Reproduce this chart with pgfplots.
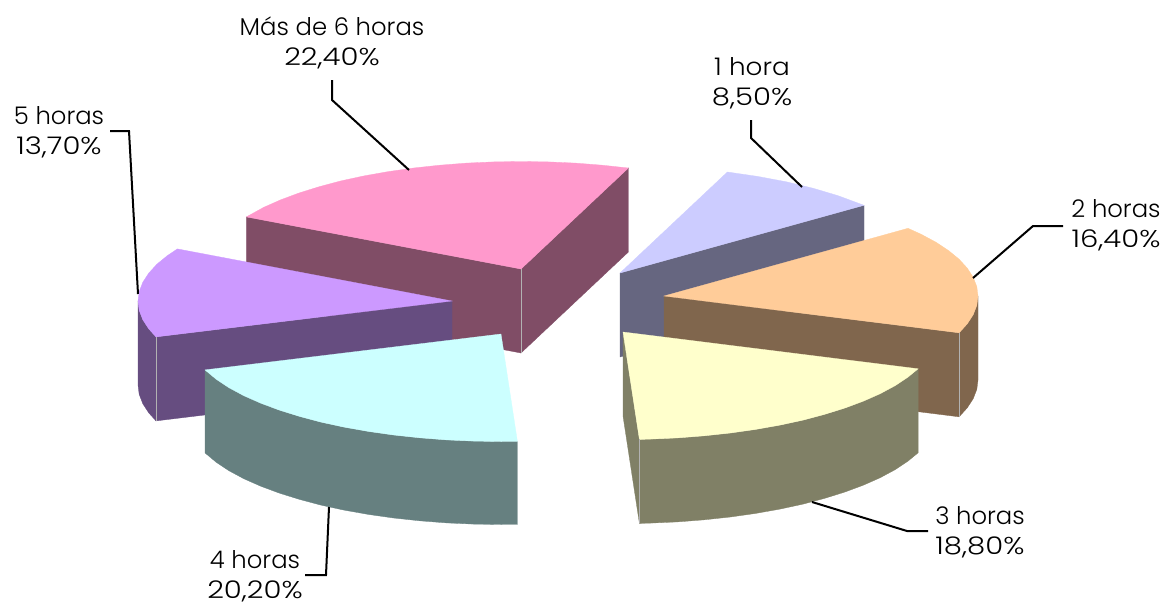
\documentclass[border=0pt]{standalone}
\usepackage{pgfplots}
\pgfplotsset{compat=1.18}
\usepackage{fontspec}
\setmainfont{Poppins Light}
\definecolor{aT}{HTML}{CCCCFF}\definecolor{aS}{HTML}{666680}
\definecolor{bT}{HTML}{FFCC99}\definecolor{bS}{HTML}{80664D}
\definecolor{cT}{HTML}{FFFFCC}\definecolor{cS}{HTML}{808066}
\definecolor{dT}{HTML}{CCFFFF}\definecolor{dS}{HTML}{668080}
\definecolor{eT}{HTML}{CC99FF}\definecolor{eS}{HTML}{664D80}
\definecolor{fT}{HTML}{FF99CC}\definecolor{fS}{HTML}{804D66}
\newcommand{\lab}[4]{\node[anchor=base,font=\fontsize{24.3}{24.3}\selectfont] at (axis cs:#1,#2) {#3};\node[anchor=base,font=\fontsize{24.3}{24.3}\selectfont] at (axis cs:#1,#2+30.5) {\scalebox{1.2}[1]{#4}};}
\begin{document}
\begin{tikzpicture}
\begin{axis}[scale only axis,width=1168pt,height=603pt,xmin=0,xmax=1168,ymin=0,ymax=603,y dir=reverse,hide axis,clip=false,
  every axis plot/.append style={line width=0.3pt,mark=none}]
% Mas de 6 horas
\addplot[fill=fS,draw=fS] coordinates {(246.4,216.9)(521,269)(521,353)(246.4,301)} --cycle;
\addplot[fill=fS,draw=fS] coordinates {(521,269)(628.4,168)(628.4,252)(521,353)} --cycle;
\addplot[fill=fT,draw=fT] coordinates {(521,269)(246.4,216.9)(263.8,207.3)(280.5,199.9)(299,193)(319.2,186.7)(340.9,180.9)(364,175.9)(388.3,171.6)(413.6,168)(439.7,165.2)(466.5,163.1)(493.6,161.9)(521,161.5)(548.4,161.9)(575.5,163.1)(602.3,165.2)(628.4,168)} --cycle;
\addplot[color=gray!60!white,line width=0.4pt] coordinates {(521,269)(521,353)};
% 1 hora
\addplot[fill=aS,draw=aS] coordinates {(620,273)(864,205.3)(864,289.3)(620,357)} --cycle;
\addplot[fill=aT,draw=aT] coordinates {(620,273)(727.4,172)(757.6,176.4)(786.4,181.8)(813.3,188.3)(838.1,195.7)(864,205.3)} --cycle;
% 5 horas
\addplot[fill=eS,draw=eS] coordinates {(452,301)(156,336.9)(156,420.9)(452,385)} --cycle;
\addplot[fill=eS,draw=eS] coordinates {(138,301)(139.2,310.4)(142.8,319.7)(148.7,328.8)(156,336.9)(156,420.9)(148.7,412.8)(142.8,403.7)(139.2,394.4)(138,385)} --cycle;
\addplot[fill=eT,draw=eT] coordinates {(452,301)(156,336.9)(148.7,328.8)(142.8,319.7)(139.2,310.4)(138,301)(139.2,291.6)(142.8,282.3)(148.7,273.2)(156.9,264.2)(167.4,255.6)(177.4,248.9)} --cycle;
\addplot[color=gray!60!white,line width=0.4pt] coordinates {(156,336.9)(156,420.9)};
% 2 horas
\addplot[fill=bS,draw=bS] coordinates {(664,296)(959.1,332.8)(959.1,416.8)(664,380)} --cycle;
\addplot[fill=bS,draw=bS] coordinates {(978,296)(976.8,305.4)(973.2,314.7)(967.3,323.8)(959.1,332.8)(959.1,416.8)(967.3,407.8)(973.2,398.7)(976.8,389.4)(978,380)} --cycle;
\addplot[fill=bT,draw=bT] coordinates {(664,296)(908,228.3)(921.2,234.3)(935.9,242.2)(948.6,250.6)(959.1,259.2)(967.3,268.2)(973.2,277.3)(976.8,286.6)(978,296)(976.8,305.4)(973.2,314.7)(967.3,323.8)(959.1,332.8)} --cycle;
\addplot[color=gray!60!white,line width=0.4pt] coordinates {(959.1,332.8)(959.1,416.8)};
% 4 horas
\addplot[fill=dS,draw=dS] coordinates {(517.4,441.4)(501,441.5)(473.6,441.1)(446.5,439.9)(419.7,437.8)(393.6,435)(368.3,431.4)(344,427.1)(320.9,422.1)(299.2,416.3)(279,410)(260.5,403.1)(243.8,395.7)(229.1,387.8)(216.4,379.4)(205,369.9)(205,452.9)(216.4,462.4)(229.1,470.8)(243.8,478.7)(260.5,486.1)(279,493)(299.2,499.3)(320.9,505.1)(344,510.1)(368.3,514.4)(393.6,518)(419.7,520.8)(446.5,522.9)(473.6,524.1)(501,524.5)(517.4,524.4)} --cycle;
\addplot[fill=dT,draw=dT] coordinates {(501,334)(517.4,441.4)(501,441.5)(473.6,441.1)(446.5,439.9)(419.7,437.8)(393.6,435)(368.3,431.4)(344,427.1)(320.9,422.1)(299.2,416.3)(279,410)(260.5,403.1)(243.8,395.7)(229.1,387.8)(216.4,379.4)(205,369.9)} --cycle;
% 3 horas
\addplot[fill=cS,draw=cS] coordinates {(623,332)(639.4,439.4)(639.4,523.4)(623,416)} --cycle;
\addplot[fill=cS,draw=cS] coordinates {(918.1,368.8)(907.6,377.4)(894.9,385.8)(880.2,393.7)(863.5,401.1)(845,408)(824.8,414.3)(803.1,420.1)(780,425.1)(755.7,429.4)(730.4,433)(704.3,435.8)(677.5,437.9)(650.4,439.1)(639.4,439.4)(639.4,523.4)(650.4,523.1)(677.5,521.9)(704.3,519.8)(730.4,517)(755.7,513.4)(780,509.1)(803.1,504.1)(824.8,498.3)(845,492)(863.5,485.1)(880.2,477.7)(894.9,469.8)(907.6,461.4)(918.1,452.8)} --cycle;
\addplot[fill=cT,draw=cT] coordinates {(623,332)(918.1,368.8)(907.6,377.4)(894.9,385.8)(880.2,393.7)(863.5,401.1)(845,408)(824.8,414.3)(803.1,420.1)(780,425.1)(755.7,429.4)(730.4,433)(704.3,435.8)(677.5,437.9)(650.4,439.1)(639.4,439.4)} --cycle;
\addplot[color=gray!60!white,line width=0.4pt] coordinates {(639.4,439.4)(639.4,523.4)};
% leader lines
\addplot[black,line width=2pt] coordinates {(332,80)(332,100)(409,170)};
\addplot[black,line width=2pt] coordinates {(751,120)(751,138)(802,187)};
\addplot[black,line width=2pt] coordinates {(1063,226)(1033,226)(973,278)};
\addplot[black,line width=2pt] coordinates {(812,502)(907,531)(928,531)};
\addplot[black,line width=2pt] coordinates {(329,507)(326,575)(305,575)};
\addplot[black,line width=2pt] coordinates {(110,131)(129,131)(138,294)};
% labels
\lab{332}{35}{Más de 6 horas}{22,40\%}
\lab{752}{75}{\scalebox{1.08}[1]{1 hora}}{8,50\%}
\lab{1116}{217}{2 horas}{16,40\%}
\lab{980}{524}{3 horas}{18,80\%}
\lab{255}{568}{4 horas}{20,20\%}
\lab{59}{124}{5 horas}{13,70\%}
\end{axis}
\useasboundingbox (0,0) rectangle (1168pt,603pt);
\end{tikzpicture}
\end{document}
